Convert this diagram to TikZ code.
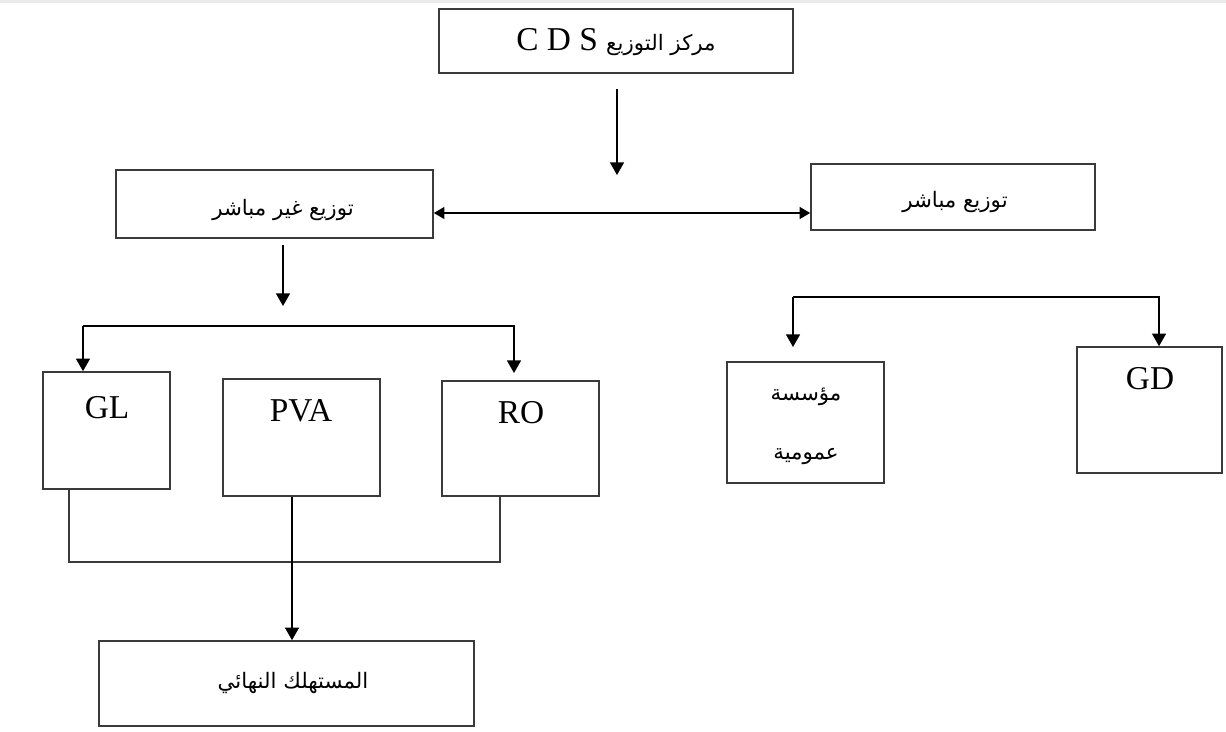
\documentclass[tikz,border=0pt]{standalone}
\usepackage{fontspec}
\setmainfont{Liberation Serif}
\newfontfamily\arabicfont[Script=Arabic]{DejaVu Sans}
\TeXXeTstate=1
\usetikzlibrary{arrows.meta}
\definecolor{boxgray}{HTML}{3A3A3A}
\newcommand\mybox[5]{\node[box, minimum width={(#4-#2)*0.75pt}, minimum height={(#5-#3)*0.75pt}] (#1) at ({(#2+#4)/2},{(#3+#5)/2}) {};}
\tikzset{
  box/.style={draw=boxgray, line width=1.2pt, rectangle, inner sep=0pt, fill=white},
  lat/.style={font=\fontsize{25}{28}\selectfont, inner sep=0pt},
  ara/.style={font=\fontsize{16}{19}\arabicfont, inner sep=0pt},
  arr/.style={line width=1.2pt, draw=black, -{Triangle[width=10.5pt,length=9.5pt]}},
  arrtwo/.style={line width=1.2pt, draw=black, {Triangle[width=9pt,length=8pt]}-{Triangle[width=9pt,length=8pt]}},
  ln/.style={line width=1.2pt, draw=boxgray}
}
\begin{document}
\begin{tikzpicture}[x=0.75pt,y=-0.75pt]
\useasboundingbox (0,0) rectangle (1226,731);
\fill[black!8] (0,0) rectangle (1226,3);
% boxes
\mybox{cds}{439}{9}{793}{73}
\mybox{ind}{116}{170}{433}{238}
\mybox{dir}{811}{164}{1095}{230}
\mybox{gl}{43}{372}{170}{489}
\mybox{pva}{223}{379}{380}{496}
\mybox{ro}{442}{381}{599}{496}
\mybox{fin}{99}{641}{474}{726}
\mybox{pub}{727}{362}{884}{483}
\mybox{gd}{1077}{347}{1222}{473}
% texts
\node[lat] (tcds) at (616,42) {C D S {\arabicfont\fontsize{16}{19}\selectfont\beginR مركز التوزيع\endR}};
\node[ara] (tind) at (283,210) {\beginR توزيع غير مباشر\endR};
\node[ara] (tdir) at (955,202) {\beginR توزيع مباشر\endR};
\node[lat] (tgl) at (107,408) {GL};
\node[lat] (tpva) at (301,411) {PVA};
\node[lat] (tro) at (521,413) {RO};
\node[lat] (tgd) at (1150,379) {GD};
\node[ara] (tpub1) at (806,397) {\beginR مؤسسة\endR};
\node[ara] (tpub2) at (806,457) {\beginR عمومية\endR};
\node[ara] (tfin) at (293,683) {\beginR المستهلك النهائي\endR};
% connectors
\coordinate (a1) at (617,89);
\coordinate (a2) at (617,175);
\draw[arr] (a1) -- (a2);
\coordinate (dy) at (0,213);
\draw[arrtwo] (ind.east |- dy) -- (dir.west |- dy);
\coordinate (b1) at (283,245);
\coordinate (b2) at (283,306);
\draw[arr] (b1) -- (b2);
\coordinate (lbl) at (83,326);
\coordinate (lbr) at (514,326);
\coordinate (ror) at (514,373);
\draw[arr] (lbl) -- (gl.north -| lbl);
\draw[arr] (lbl) -- (lbr) -- (ror);
\coordinate (c1) at (69,562);
\coordinate (c2) at (500,562);
\draw[ln] (gl.south -| c1) -- (c1) -- (c2) -- (ro.south -| c2);
\coordinate (px) at (292,0);
\draw[arr] (pva.south -| px) -- (fin.north -| px);
\coordinate (rbl) at (793,297);
\coordinate (rbr) at (1159,297);
\coordinate (rpl) at (793,347);
\draw[arr] (rbl) -- (rpl);
\draw[arr] (rbl) -- (rbr) -- (gd.north -| rbr);
\end{tikzpicture}
\end{document}
